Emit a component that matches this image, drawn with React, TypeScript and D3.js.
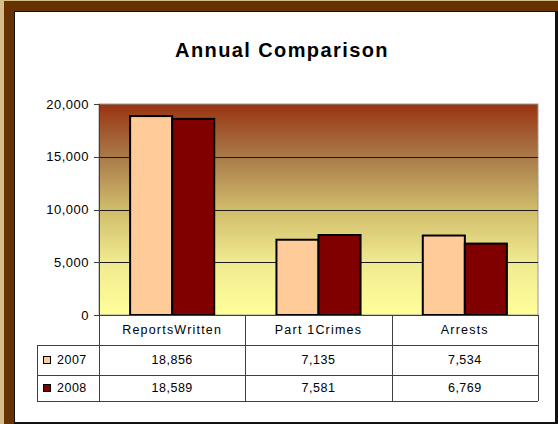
import React from "react";
import * as d3 from "d3";

const categories = ["ReportsWritten", "Part 1Crimes", "Arrests"];
const seriesNames = ["2007", "2008"];
const values2007 = [18856, 7135, 7534];
const values2008 = [18589, 7581, 6769];
const seriesColors = ["#ffcc99", "#800000"];
const yTicks = [0, 5000, 10000, 15000, 20000];

const W = 558;
const H = 424;
const plotL = 99;
const plotR = 538;
const plotT = 104;
const plotB = 315;
const rowH = 30;
const tableL = 37;
const FONT = "Arial, 'Liberation Sans', sans-serif";

export default function App() {
  const seriesValues = [values2007, values2008];
  const x0 = d3.scaleBand<string>().domain(categories).range([plotL, plotR]).padding(0);
  const x1 = d3
    .scaleBand<string>()
    .domain(seriesNames)
    .range([0, x0.bandwidth()])
    .paddingInner(0)
    .paddingOuter(0.74);
  const y = d3.scaleLinear().domain([0, 20000]).range([plotB, plotT]);
  const fmt = d3.format(",");

  const row1 = plotB + rowH; // 345
  const row2 = row1 + rowH; // 375
  const tableB = row2 + 26; // 401

  return (
    <svg
      width={W}
      height={H}
      style={{ position: "absolute", left: 0, top: 0 }}
      fontFamily={FONT}
    >
      <defs>
        <linearGradient id="plotGrad" x1="0" y1="0" x2="0" y2="1">
          <stop offset="0%" stopColor="#993310" />
          <stop offset="25%" stopColor="#a97a4a" />
          <stop offset="50%" stopColor="#d0bc6a" />
          <stop offset="75%" stopColor="#f0ea90" />
          <stop offset="100%" stopColor="#ffff99" />
        </linearGradient>
      </defs>
      {/* frame */}
      <rect x={0} y={0} width={W} height={H} fill="#d6bd8c" />
      <rect x={4} y={1} width={W - 4} height={H - 1} fill="#663300" />
      <rect x={14} y={11} width={W - 14} height={H - 11} fill="#111" />
      <rect x={15} y={12} width={540} height={410} fill="#ffffff" />

      {/* title */}
      <text
        x={282}
        y={57}
        textAnchor="middle"
        fontWeight="bold"
        fontSize={20}
        letterSpacing={1.4}
        fill="#000"
      >
        Annual Comparison
      </text>

      {/* plot area */}
      <rect
        x={plotL}
        y={plotT}
        width={plotR - plotL}
        height={plotB - plotT}
        fill="url(#plotGrad)"
        stroke="#999"
        strokeWidth={1}
      />
      {yTicks
        .filter((t) => t > 0 && t < 20000)
        .map((t) => (
          <line
            key={"g" + t}
            x1={plotL}
            x2={plotR}
            y1={Math.round(y(t)) + 0.5}
            y2={Math.round(y(t)) + 0.5}
            stroke="#1a1a1a"
            strokeWidth={1}
          />
        ))}

      {/* bars */}
      {categories.map((c, ci) =>
        seriesNames.map((s, si) => {
          const v = seriesValues[si][ci];
          const bx = (x0(c) ?? 0) + (x1(s) ?? 0);
          return (
            <rect
              key={c + s}
              x={bx}
              y={y(v)}
              width={x1.bandwidth()}
              height={plotB - y(v)}
              fill={seriesColors[si]}
              stroke="#000"
              strokeWidth={2}
            />
          );
        })
      )}

      {/* y axis */}
      <line x1={plotL + 0.5} x2={plotL + 0.5} y1={plotT} y2={tableB} stroke="#404040" />
      {yTicks.map((t) => (
        <g key={"t" + t}>
          <line
            x1={plotL - 5}
            x2={plotL}
            y1={Math.round(y(t)) + 0.5}
            y2={Math.round(y(t)) + 0.5}
            stroke="#404040"
          />
          <text
            x={plotL - 10}
            y={y(t)}
            dy="0.35em"
            textAnchor="end"
            fontSize={13}
            letterSpacing={0.5}
            fill="#000"
          >
            {fmt(t)}
          </text>
        </g>
      ))}

      {/* data table */}
      <line x1={plotL} x2={plotR} y1={plotB + 0.5} y2={plotB + 0.5} stroke="#404040" />
      <line x1={tableL} x2={plotR} y1={row1 + 0.5} y2={row1 + 0.5} stroke="#404040" />
      <line x1={tableL} x2={plotR} y1={row2 + 0.5} y2={row2 + 0.5} stroke="#404040" />
      <line x1={tableL} x2={plotR} y1={tableB + 0.5} y2={tableB + 0.5} stroke="#404040" />
      <line x1={tableL + 0.5} x2={tableL + 0.5} y1={row1} y2={tableB} stroke="#404040" />
      {categories.map((c) => (
        <line
          key={"v" + c}
          x1={Math.round((x0(c) ?? 0) + x0.bandwidth()) + 0.5}
          x2={Math.round((x0(c) ?? 0) + x0.bandwidth()) + 0.5}
          y1={plotB}
          y2={tableB}
          stroke="#404040"
        />
      ))}
      {categories.map((c) => (
        <text
          key={"c" + c}
          x={(x0(c) ?? 0) + x0.bandwidth() / 2}
          y={plotB + rowH / 2}
          dy="0.35em"
          textAnchor="middle"
          fontSize={12.5}
          letterSpacing={1.2}
          fill="#000"
        >
          {c}
        </text>
      ))}
      {seriesNames.map((s, si) => {
        const ry = si === 0 ? row1 + rowH / 2 : row2 + 13;
        return (
          <g key={"r" + s}>
            <rect
              x={43.5}
              y={ry - 3.5}
              width={7}
              height={7}
              fill={seriesColors[si]}
              stroke="#000"
              strokeWidth={1}
            />
            <text x={57} y={ry} dy="0.35em" fontSize={12.5} letterSpacing={0.5} fill="#000">
              {s}
            </text>
            {categories.map((c, ci) => (
              <text
                key={s + c}
                x={(x0(c) ?? 0) + x0.bandwidth() / 2}
                y={ry}
                dy="0.35em"
                textAnchor="middle"
                fontSize={12.5}
                letterSpacing={0.5}
                fill="#000"
              >
                {fmt(seriesValues[si][ci])}
              </text>
            ))}
          </g>
        );
      })}
    </svg>
  );
}
